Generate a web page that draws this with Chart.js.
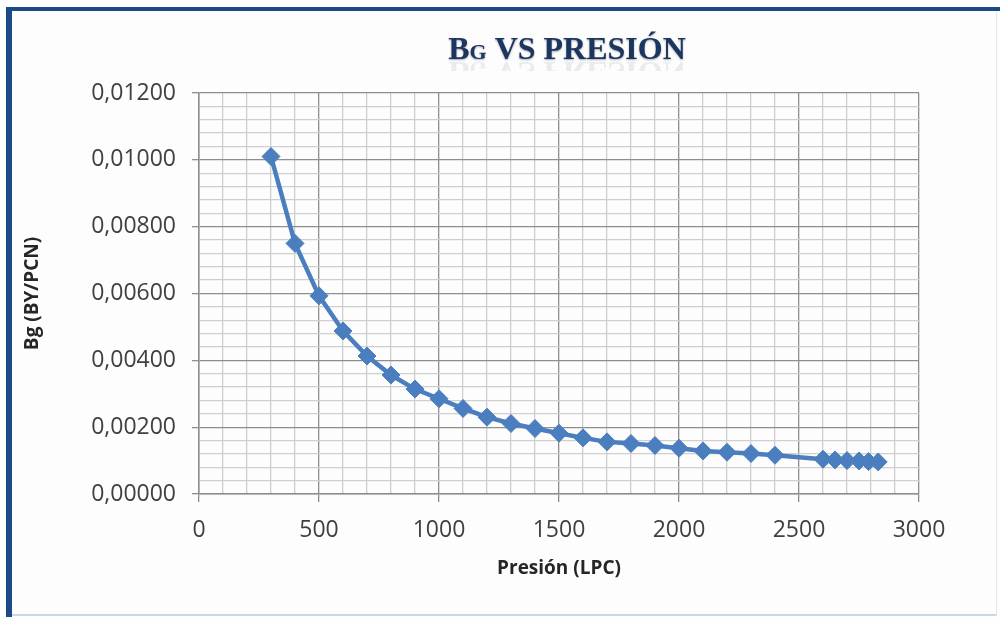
<!DOCTYPE html>
<html>
<head>
<meta charset="utf-8">
<script src="https://cdn.jsdelivr.net/npm/chart.js@4"></script>
<style>
  body { margin: 0; background: #ffffff; }
  #wrap { position: relative; width: 1000px; height: 617px; overflow: hidden; }
  #frame {
    position: absolute; left: 6px; top: 7px; right: 0; bottom: 0;
    border-left: 6px solid #1b4a87; border-top: 4px solid #1b4a87;
    background: #fdfdfd;
  }
  #inner {
    position: absolute; left: 0; top: 0; right: 3px; bottom: 1px;
    border-right: 1px solid #e2e9f2; border-bottom: 2px solid #c8d8ea;
  }
  canvas { position: absolute; left: 0; top: 0; }
</style>
</head>
<body>
<div id="wrap">
  <div id="frame"><div id="inner"></div></div>
  <canvas id="bg" width="1000" height="617"></canvas>
</div>
<script>
const chartTitle = "Bg VS PRESIÓN";
const xTitle = "Presión (LPC)";
const yTitle = "Bg (BY/PCN)";

// presión (lpc) y factor volumétrico del gas
const pressure = [300, 400, 500, 600, 700, 800, 900, 1000, 1100, 1200, 1300, 1400, 1500, 1600,
  1700, 1800, 1900, 2000, 2100, 2200, 2300, 2400, 2600, 2650, 2700, 2750, 2790, 2830];
const bgValues = [0.01010, 0.00750, 0.00593, 0.00488, 0.00413, 0.00356, 0.00314, 0.00285,
  0.00256, 0.00230, 0.00211, 0.00196, 0.00182, 0.00168, 0.00156, 0.00151, 0.00145, 0.00137,
  0.00129, 0.00125, 0.00121, 0.00116, 0.00104, 0.00102, 0.00100, 0.00099, 0.00097, 0.00096];

const xMajor = 500, xMinor = 100;
const yMajor = 0.002, yMinor = 0.0004;

const blue = "#4a7ebe";
const majorGrid = "#8e8e8e";
const minorGrid = "#cfcfcf";
const labelColor = "#404040";

const isMajorX = (v) => Math.round(v) % xMajor === 0;
const isMajorY = (v) => Math.round(v / yMinor) % Math.round(yMajor / yMinor) === 0;

// título con reflejo
const bannerTitle = {
  id: "bannerTitle",
  afterDraw(chart, args, opts) {
    const { ctx } = chart;
    ctx.save();
    ctx.font = 'small-caps bold 32px "Liberation Serif"';
    ctx.textAlign = "center";
    ctx.textBaseline = "alphabetic";
    ctx.fillStyle = opts.color;

    ctx.save();
    ctx.beginPath();
    ctx.rect(0, opts.y + 2, chart.width, 10);
    ctx.clip();
    ctx.translate(0, 2 * opts.y + 3);
    ctx.scale(1, -1);
    ctx.globalAlpha = 0.09;
    ctx.fillText(opts.text, opts.x, opts.y);
    ctx.restore();

    ctx.shadowColor = "rgba(0,0,0,0.35)";
    ctx.shadowBlur = 2;
    ctx.shadowOffsetY = 1;
    ctx.fillText(opts.text, opts.x, opts.y);
    ctx.restore();
  },
};

new Chart(document.getElementById("bg"), {
  type: "scatter",
  data: {
    datasets: [
      {
        data: pressure.map((p, i) => ({ x: p, y: bgValues[i] })),
        showLine: true,
        borderColor: blue,
        backgroundColor: blue,
        borderWidth: 4.5,
        pointStyle: "rectRot",
        pointRadius: 9,
        pointHoverRadius: 9,
        pointBorderWidth: 1,
        tension: 0,
      },
    ],
  },
  plugins: [bannerTitle],
  options: {
    responsive: false,
    devicePixelRatio: 1,
    animation: false,
    layout: { padding: { top: 93, right: 81, left: 0, bottom: 0 } },
    plugins: {
      legend: { display: false },
      tooltip: { enabled: false },
      bannerTitle: { text: chartTitle, x: 567, y: 59, color: "#1b3660" },
    },
    scales: {
      x: {
        type: "linear",
        min: 0,
        max: 3000,
        afterFit: (scale) => { scale.height = 123; },
        ticks: {
          stepSize: xMinor,
          autoSkip: false,
          maxRotation: 0,
          padding: 15,
          color: labelColor,
          font: { family: "Open Sans", size: 23 },
          callback: (v) => (isMajorX(v) ? String(v) : ""),
        },
        grid: {
          color: (c) => (isMajorX(c.tick.value) ? majorGrid : minorGrid),
          tickColor: (c) => (isMajorX(c.tick.value) ? majorGrid : "transparent"),
          tickLength: 8,
          lineWidth: 1.3,
        },
        border: { color: majorGrid, width: 1.5 },
        title: {
          display: true,
          text: xTitle,
          color: "#262626",
          font: { family: "Open Sans", size: 19, weight: "bold" },
          padding: { top: 0, bottom: 37 },
        },
      },
      y: {
        min: 0,
        max: 0.012,
        afterFit: (scale) => { scale.width = 199; },
        ticks: {
          stepSize: yMinor,
          autoSkip: false,
          padding: 16,
          color: labelColor,
          font: { family: "Open Sans", size: 23 },
          callback: (v) => (isMajorY(v) ? v.toFixed(5).replace(".", ",") : ""),
        },
        grid: {
          color: (c) => (isMajorY(c.tick.value) ? majorGrid : minorGrid),
          tickColor: (c) => (isMajorY(c.tick.value) ? majorGrid : "transparent"),
          tickLength: 7,
          lineWidth: 1.3,
        },
        border: { color: majorGrid, width: 1.5 },
        title: {
          display: true,
          text: yTitle,
          color: "#262626",
          font: { family: "Open Sans", size: 19, weight: "bold" },
          padding: { top: 21, bottom: 0 },
        },
      },
    },
  },
});
</script>
</body>
</html>
